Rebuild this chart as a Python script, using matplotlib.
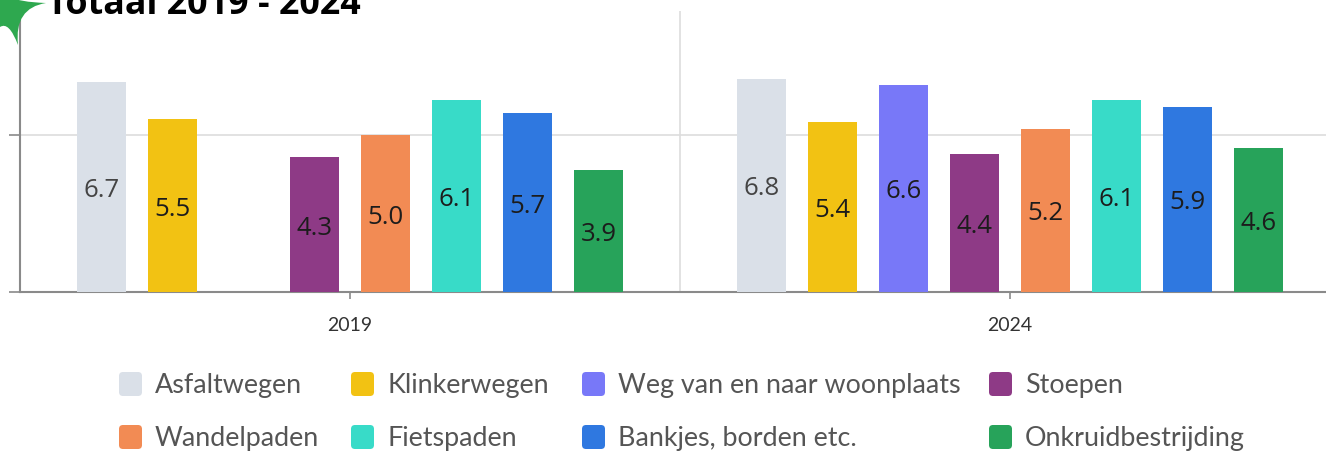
import matplotlib

matplotlib.use("Agg")

import matplotlib.pyplot as plt
import numpy as np
from matplotlib.patches import FancyBboxPatch, PathPatch
from matplotlib.path import Path

# data
years = ["2019", "2024"]
categories = [
    "Asfaltwegen",
    "Klinkerwegen",
    "Weg van en naar woonplaats",
    "Stoepen",
    "Wandelpaden",
    "Fietspaden",
    "Bankjes, borden etc.",
    "Onkruidbestrijding",
]
scores_2019 = [6.7, 5.5, np.nan, 4.3, 5.0, 6.1, 5.7, 3.9]
scores_2024 = [6.8, 5.4, 6.6, 4.4, 5.2, 6.1, 5.9, 4.6]
colors = ["#dae0e8", "#f2c213", "#7878f8", "#8e3a86", "#f28b54", "#38dbc8", "#2f78e0", "#27a35a"]

W, H = 1326, 452
fig = plt.figure(figsize=(W / 100, H / 100), dpi=100)

# plot area in pixels: x 20..1340 (cut at the right edge), y 12..293
ax = fig.add_axes([20 / W, 1 - 293 / H, 1320 / W, 281 / H])
ax.set_xlim(-0.5, 1.5)
ax.set_ylim(0, 8.95)

slot = 0.1076
bar_w = 0.0742
for yi, vals in enumerate([scores_2019, scores_2024]):
    for i, v in enumerate(vals):
        if np.isnan(v):
            continue
        x = yi + (i - 3.5) * slot
        ax.bar(x, v, width=bar_w, color=colors[i], zorder=3)
        ax.text(x, v / 2 - 0.08, f"{v:.1f}", ha="center", va="center", fontsize=18.5,
                family="Open Sans", color="#444444" if i == 0 else "#1c1c1c", zorder=4)

ax.axhline(5, color="#dddddd", linewidth=1.2, zorder=1)
ax.axvline(0.5, color="#dddddd", linewidth=1.2, zorder=1)

for side in ["top", "right"]:
    ax.spines[side].set_visible(False)
for side in ["left", "bottom"]:
    ax.spines[side].set_color("#8a8a8a")
    ax.spines[side].set_linewidth(1.5)

ax.set_yticks([0, 5])
ax.set_yticklabels([])
ax.tick_params(axis="y", length=8, width=1.2, color="#8a8a8a")
ax.set_xticks([0, 1])
ax.set_xticklabels(years, family="Lato", fontsize=14, color="#333333")
ax.tick_params(axis="x", length=5, width=1.2, color="#8a8a8a", pad=12)

# overlay in pixel coordinates for title, decoration and legend
ov = fig.add_axes([0, 0, 1, 1], zorder=5)
ov.set_xlim(0, W)
ov.set_ylim(H, 0)
ov.axis("off")
ov.patch.set_alpha(0)

ov.text(47, 14, "Totaal 2019 - 2024", family="Open Sans", fontweight="bold",
        fontsize=25.8, color="black", ha="left", va="baseline")

verts = [
    (0, -2), (12, -2),
    (18, 3), (46, 4),
    (14, 9), (18, 46),
    (9, 22), (0, 28),
    (0, -2), (0, -2),
]
codes = [
    Path.MOVETO, Path.LINETO,
    Path.CURVE3, Path.CURVE3,
    Path.CURVE3, Path.CURVE3,
    Path.CURVE3, Path.CURVE3,
    Path.LINETO, Path.CLOSEPOLY,
]
ov.add_patch(PathPatch(Path(verts, codes), facecolor="#2ea84f", edgecolor="none"))

col_x = [118, 350, 581, 988]
row_y = [385, 438]
for i, name in enumerate(categories):
    r, c = divmod(i, 4)
    x0, yc = col_x[c], row_y[r]
    ov.add_patch(FancyBboxPatch((x0 + 3, yc - 10), 19, 20,
                                boxstyle="round,pad=2,rounding_size=4",
                                facecolor=colors[i], edgecolor="none"))
    ov.text(x0 + 37, yc + 1, name, family="Lato", fontsize=19.4, color="#555555",
            ha="left", va="center")

fig.savefig("out.png", dpi=100)
